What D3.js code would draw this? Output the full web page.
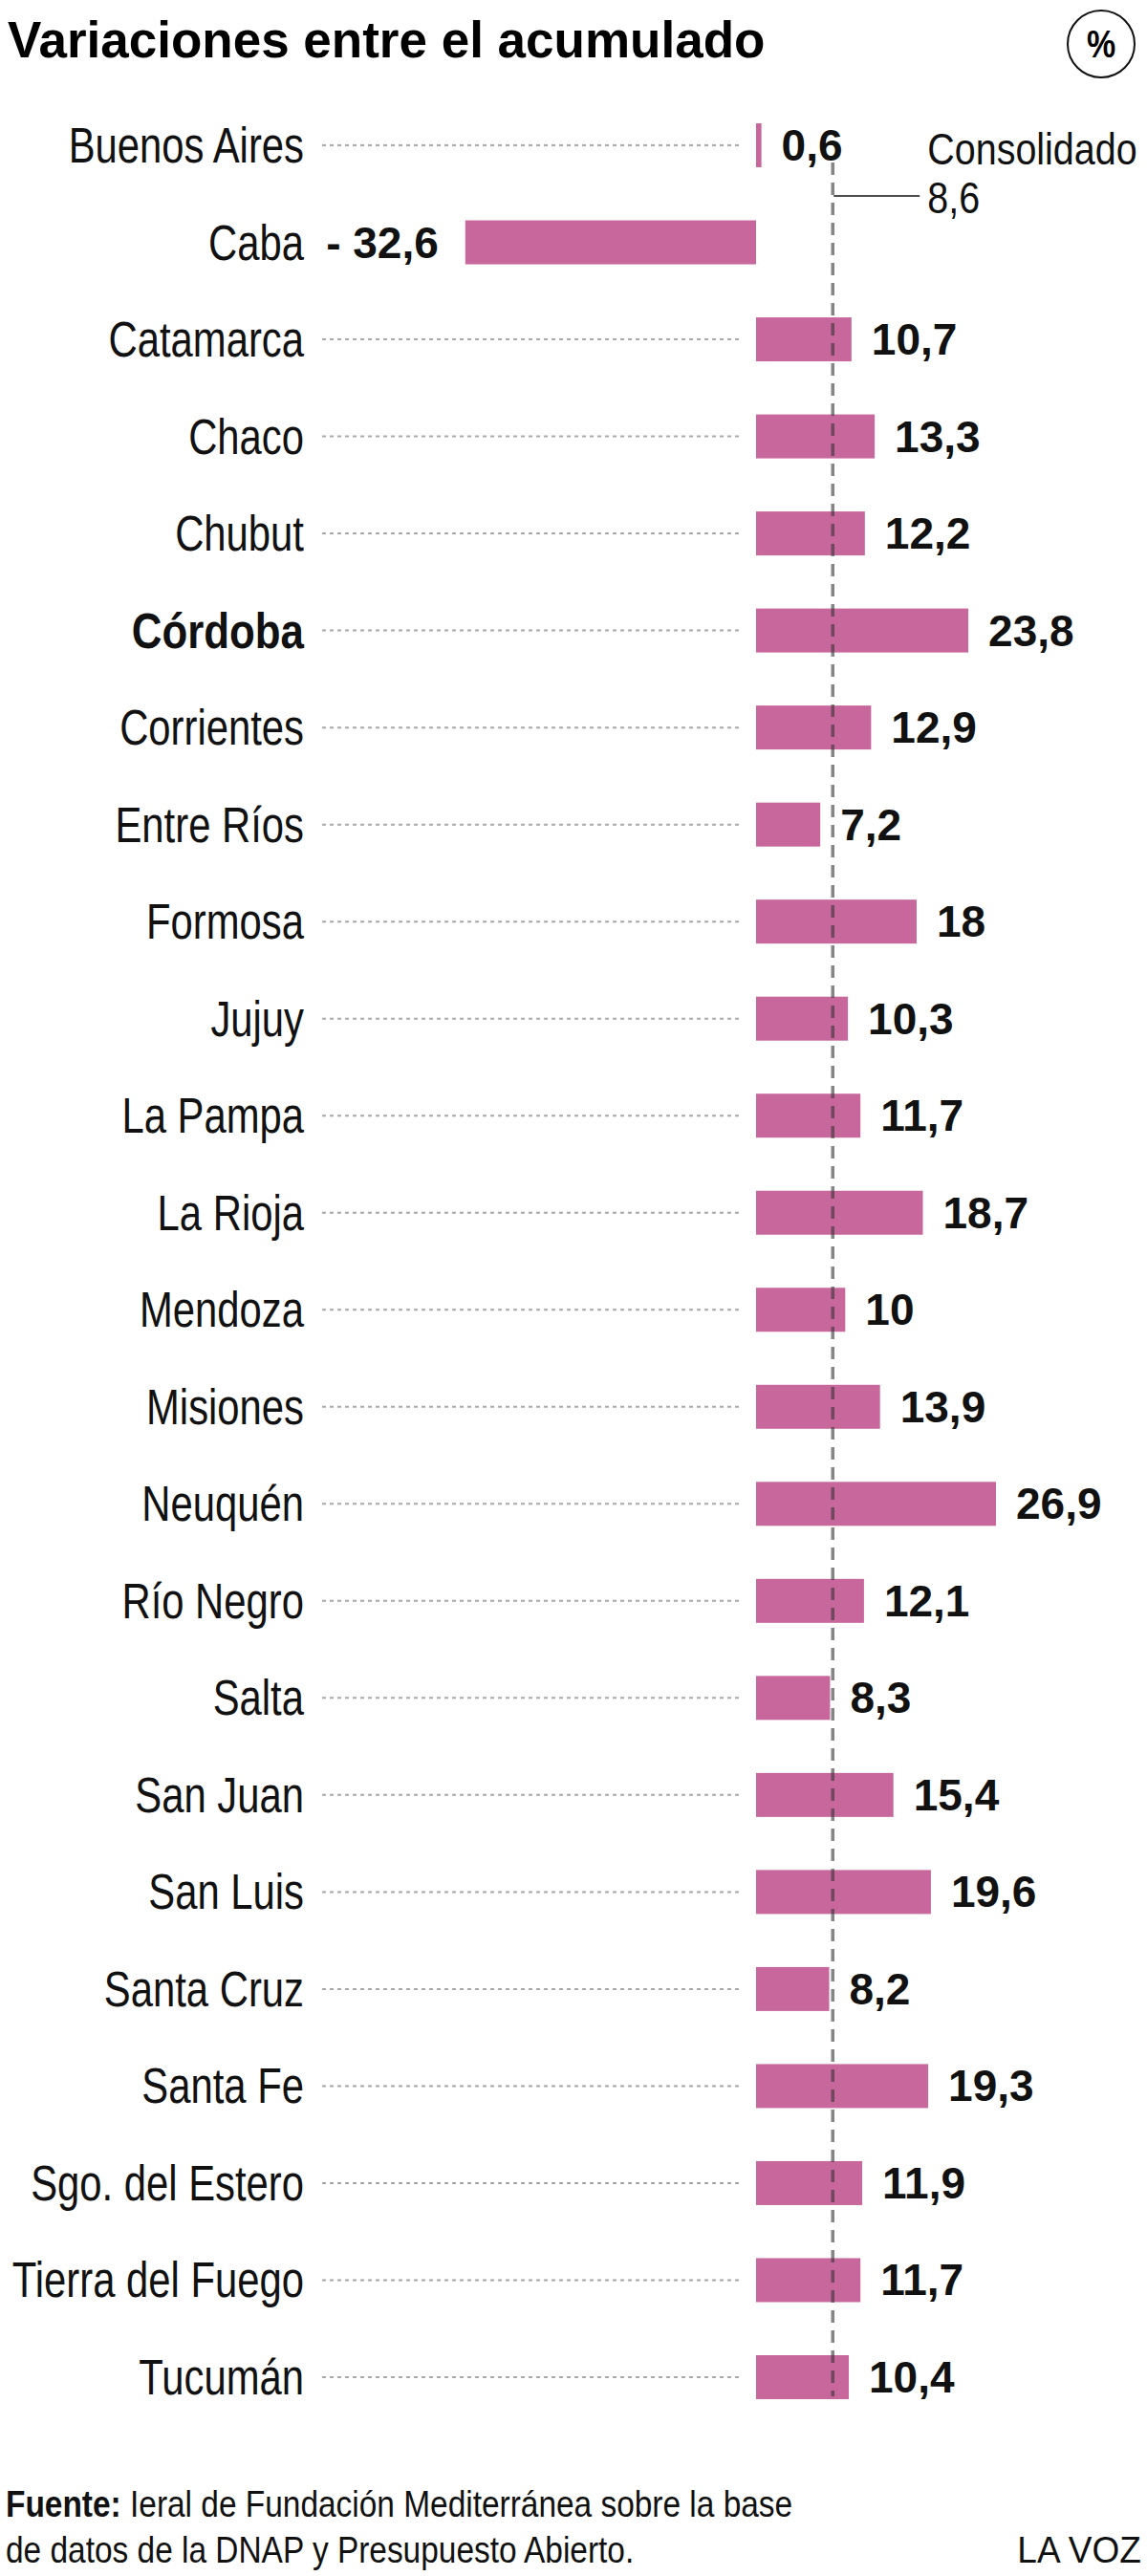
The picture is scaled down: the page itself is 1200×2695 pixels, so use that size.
<!DOCTYPE html>
<html>
<head>
<meta charset="utf-8">
<script src="https://cdn.jsdelivr.net/npm/d3@7"></script>
<style>
  body { margin: 0; background: #fff; }
  svg { display: block; }
</style>
</head>
<body>
<svg id="chartsvg" width="1200" height="2695"></svg>
<script>
var provinces = ['Buenos Aires', 'Caba', 'Catamarca', 'Chaco', 'Chubut', 'Córdoba', 'Corrientes',
  'Entre Ríos', 'Formosa', 'Jujuy', 'La Pampa', 'La Rioja', 'Mendoza', 'Misiones', 'Neuquén',
  'Río Negro', 'Salta', 'San Juan', 'San Luis', 'Santa Cruz', 'Santa Fe', 'Sgo. del Estero',
  'Tierra del Fuego', 'Tucumán'];
var variations = [0.6, -32.6, 10.7, 13.3, 12.2, 23.8, 12.9, 7.2, 18, 10.3, 11.7, 18.7, 10, 13.9,
  26.9, 12.1, 8.3, 15.4, 19.6, 8.2, 19.3, 11.9, 11.7, 10.4];
var highlighted = ['Córdoba'];
var consolidated = 8.6;

var titleText = 'Variaciones entre el acumulado';
var unitText = '%';
var sourceLines = ['Ieral de Fundación Mediterránea sobre la base', 'de datos de la DNAP y Presupuesto Abierto.'];
var brandText = 'LA VOZ';

// no narrow face installed, so the regular one gets squeezed sideways
var FONT = "'Liberation Sans', Arial, sans-serif";

function squeezed(sel, x, y, sx) {
  return sel
    .attr('transform', `translate(${x}, ${y}) scale(${sx}, 1)`)
    .style('font-family', FONT);
}

class barChart {
  constructor(names, values) {
    this.svg = d3.select('#chartsvg');
    this.data = names.map((n, i) => ({ name: n, value: values[i] }));
    this.barColor = '#c8679c';
    this.barHeight = 46;
  }

  buildScales() {
    this.xScale = d3
      .scaleLinear()
      .domain([0, d3.max(this.data, d => d.value)])
      .range([791, 1042]);

    this.yScale = d3
      .scalePoint()
      .domain(this.data.map(d => d.name))
      .range([152, 2487]);
  }

  buildHeader() {
    this.svg
      .append('text')
      .attr('x', 8)
      .attr('y', 60)
      .style('font-family', FONT)
      .style('font-weight', 'bold')
      .style('font-size', '53px')
      .text(titleText);

    this.svg
      .append('circle')
      .attr('cx', 1152)
      .attr('cy', 46)
      .attr('r', 35)
      .style('fill', 'none')
      .style('stroke', '#111')
      .style('stroke-width', 2);

    squeezed(this.svg.append('text'), 1152, 60, 0.85)
      .attr('text-anchor', 'middle')
      .style('font-weight', 'bold')
      .style('font-size', '40px')
      .text(unitText);
  }

  buildRows() {
    var x = this.xScale;
    var y = this.yScale;
    var rows = this.svg
      .selectAll('.row')
      .data(this.data)
      .enter()
      .append('g')
      .attr('class', 'row');

    rows
      .filter(d => d.value >= 0)
      .append('line')
      .attr('x1', 337)
      .attr('x2', x(0) - 15)
      .attr('y1', d => y(d.name))
      .attr('y2', d => y(d.name))
      .style('stroke', '#a8a8a8')
      .style('stroke-width', 2)
      .style('stroke-dasharray', '4,4');

    rows.each(function(d) {
      var bold = highlighted.includes(d.name);
      squeezed(d3.select(this).append('text'), 318, y(d.name) + 18, bold ? 0.86 : 0.82)
        .attr('text-anchor', 'end')
        .style('font-size', '51px')
        .style('font-weight', bold ? 'bold' : 'normal')
        .style('fill', '#111')
        .text(d.name);
    });

    rows
      .append('rect')
      .attr('x', d => Math.min(x(0), x(d.value)))
      .attr('width', d => Math.max(Math.abs(x(d.value) - x(0)), 4))
      .attr('y', d => y(d.name) - this.barHeight / 2)
      .attr('height', this.barHeight)
      .style('fill', this.barColor);

    rows
      .append('text')
      .attr('x', d => (d.value >= 0 ? Math.max(x(d.value), x(0) + 5) + 21 : x(d.value) - 28))
      .attr('y', d => y(d.name) + 16)
      .attr('text-anchor', d => (d.value >= 0 ? 'start' : 'end'))
      .style('font-family', FONT)
      .style('font-weight', 'bold')
      .style('font-size', '46px')
      .style('fill', '#111')
      .text(d => (d.value < 0 ? '- ' + d3.format('.1f')(-d.value) : String(d.value)).replace('.', ','));
  }

  buildReference() {
    var x = this.xScale;
    var cx = x(consolidated);

    this.svg
      .append('line')
      .attr('x1', cx)
      .attr('x2', cx)
      .attr('y1', 170)
      .attr('y2', 2507)
      .style('stroke', '#333')
      .style('stroke-opacity', 0.6)
      .style('stroke-width', 3.5)
      .style('stroke-dasharray', '13,8');

    this.svg
      .append('line')
      .attr('x1', cx + 1)
      .attr('x2', cx + 91)
      .attr('y1', 205)
      .attr('y2', 205)
      .style('stroke', '#111')
      .style('stroke-width', 1.5);

    squeezed(this.svg.append('text'), cx + 99, 172, 0.84)
      .style('font-size', '47px')
      .style('fill', '#111')
      .text('Consolidado');
    squeezed(this.svg.append('text'), cx + 99, 223, 0.84)
      .style('font-size', '47px')
      .style('fill', '#111')
      .text(String(consolidated).replace('.', ','));
  }

  buildFooter() {
    var first = squeezed(this.svg.append('text'), 6, 2633, 0.88)
      .style('font-size', '38px')
      .style('fill', '#111');
    first.append('tspan').style('font-weight', 'bold').text('Fuente: ');
    first.append('tspan').text(sourceLines[0]);

    squeezed(this.svg.append('text'), 6, 2681, 0.88)
      .style('font-size', '38px')
      .style('fill', '#111')
      .text(sourceLines[1]);

    squeezed(this.svg.append('text'), 1194, 2681, 0.95)
      .attr('text-anchor', 'end')
      .style('font-size', '39px')
      .style('fill', '#111')
      .text(brandText);
  }
}

var chart = new barChart(provinces, variations);
chart.buildScales();
chart.buildHeader();
chart.buildRows();
chart.buildReference();
chart.buildFooter();
</script>
</body>
</html>
